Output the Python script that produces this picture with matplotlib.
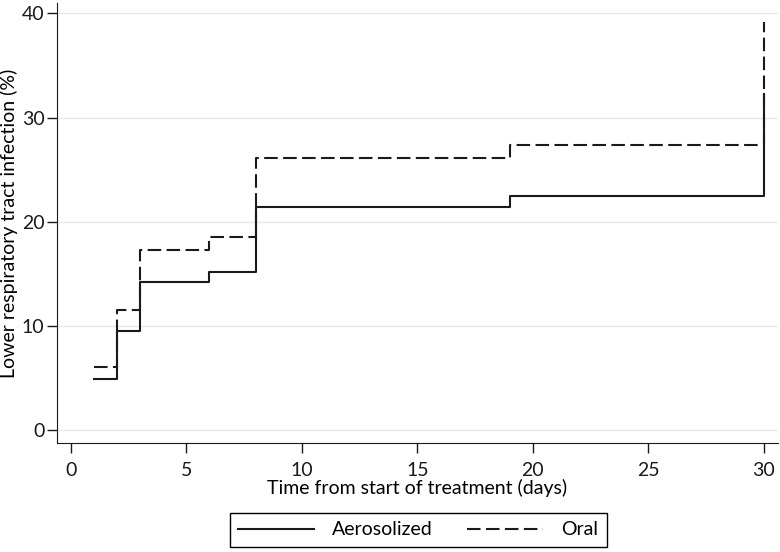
import matplotlib.pyplot as plt
import matplotlib as mpl

mpl.rcParams["font.family"] = ["Lato", "DejaVu Sans"]

# 투여 경로별 하기도 감염 누적 비율 (step)
days = [1, 2, 3, 6, 8, 19, 30]
aerosolized = [4.9, 9.5, 14.2, 15.2, 21.4, 22.5, 32.3]
oral = [6.0, 11.5, 17.3, 18.5, 26.1, 27.4, 39.2]

x_ticks = [0, 5, 10, 15, 20, 25, 30]
y_ticks = [0, 10, 20, 30, 40]

fig = plt.figure(figsize=(7.8, 5.52), dpi=100)
ax = fig.add_axes([0.073, 0.1975, 0.924, 0.797])

ax.step(days, aerosolized, where="post", color="#1a1a1a", lw=1.5, label="Aerosolized")
ax.step(days, oral, where="post", color="#1a1a1a", lw=1.5, dashes=(6.5, 2.6), label="Oral")

ax.set_xlim(-0.6, 30.6)
ax.set_ylim(-1.25, 41.0)
ax.set_xticks(x_ticks)
ax.set_yticks(y_ticks)
ax.tick_params(direction="out", length=7, width=1, labelsize=14, colors="#1a1a1a")
ax.tick_params(axis="x", pad=7)
ax.tick_params(axis="y", pad=2)
ax.grid(axis="y", color="#e8e8e8", lw=1)
ax.set_axisbelow(True)
for s in ["top", "right"]:
    ax.spines[s].set_visible(False)
for s in ["left", "bottom"]:
    ax.spines[s].set_color("#1a1a1a")

ax.set_xlabel("Time from start of treatment (days)", fontsize=14, labelpad=0)
ax.set_ylabel("Lower respiratory tract infection (%)", fontsize=14, labelpad=3)

leg = fig.legend(loc="center", bbox_to_anchor=(0.536, 0.04), ncol=2, fontsize=14,
                 handlelength=3.9, columnspacing=1.8, handletextpad=0.9,
                 fancybox=False, edgecolor="black", framealpha=1, borderpad=0.45)
leg.get_frame().set_linewidth(1)

plt.savefig("out.png", dpi=100)
